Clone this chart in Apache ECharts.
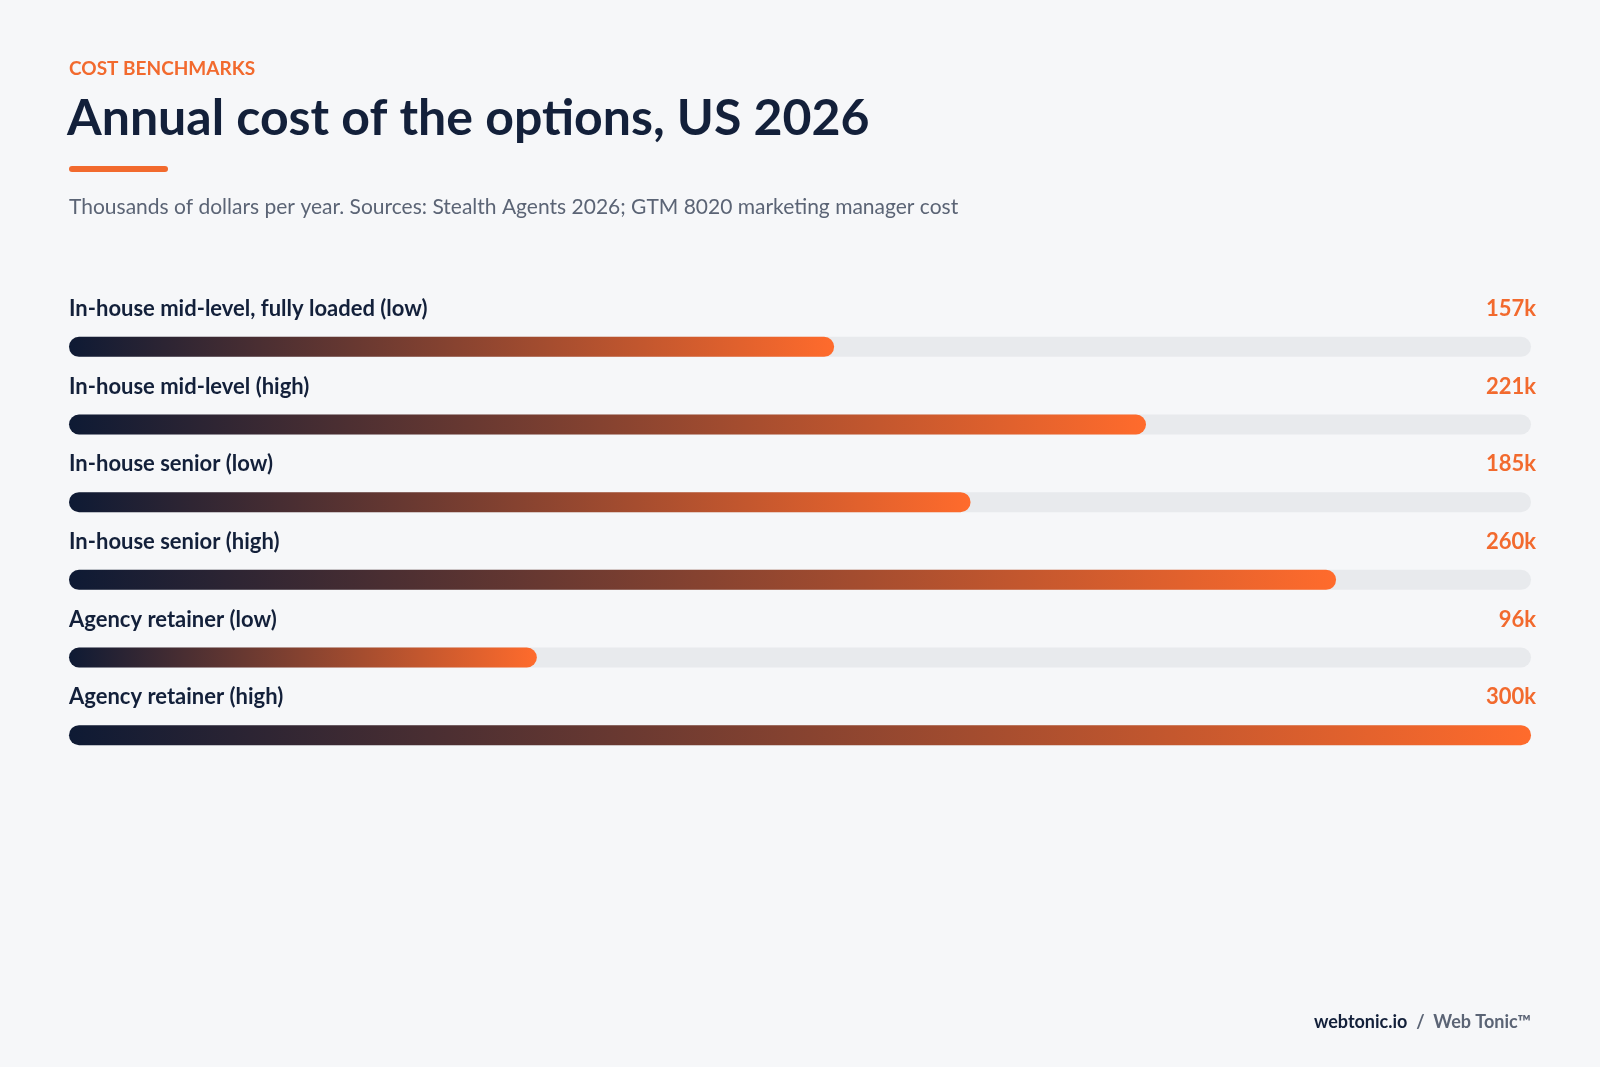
<!DOCTYPE html>
<html><head><meta charset="utf-8">
<script src="https://cdn.jsdelivr.net/npm/echarts@6/dist/echarts.min.js"></script>
<style>html,body{margin:0;padding:0;background:#f6f7f9}#c{width:1600px;height:1067px}</style>
</head><body><div id="c"></div>
<script>
const categories = ["In-house mid-level, fully loaded (low)","In-house mid-level (high)","In-house senior (low)","In-house senior (high)","Agency retainer (low)","Agency retainer (high)"];
const values = [157,221,185,260,96,300];
const axisMax = 300;
const chart = echarts.init(document.getElementById('c'));
const F = 'Lato, "Noto Sans", sans-serif';
chart.setOption({
  backgroundColor:'#f6f7f9',
  animation:false,
  grid:{left:69,right:69,top:308,bottom:293},
  xAxis:{type:'value',min:0,max:axisMax,show:false},
  yAxis:{type:'category',data:categories,inverse:true,show:false},
  series:[
    {type:'bar',data:values.map(()=>axisMax),barWidth:20,silent:true,
     itemStyle:{color:'#e8eaed',borderRadius:10},
     label:{show:true,position:'insideRight',offset:[10,-38],
       formatter:p=>values[p.dataIndex]+'k',color:'#f26a2e',fontFamily:F,fontWeight:'bold',fontSize:22}},
    {type:'bar',data:values,barWidth:20,barGap:'-100%',
     itemStyle:{borderRadius:10,color:new echarts.graphic.LinearGradient(0,0,1,0,[{offset:0,color:'#0e1a34'},{offset:1,color:'#ff6b2c'}])},
     label:{show:true,position:'insideLeft',offset:[-5,-38],formatter:p=>categories[p.dataIndex],
       color:'#13203a',fontFamily:F,fontWeight:'bold',fontSize:22,letterSpacing:-0.5}}
  ],
  graphic:[
    {type:'text',left:69,top:59,style:{text:'COST BENCHMARKS',fill:'#f26a2e',font:'bold 19px '+F,letterSpacing:2.5}},
    {type:'text',left:67,top:94,style:{text:'Annual cost of the options, US 2026',fill:'#13203a',font:'bold 50px '+F,letterSpacing:-1.5}},
    {type:'rect',left:69,top:166,shape:{width:99,height:6,r:3},style:{fill:'#f26a2e'}},
    {type:'text',left:69,top:197,style:{text:'Thousands of dollars per year. Sources: Stealth Agents 2026; GTM 8020 marketing manager cost',fill:'#5b6475',font:'21px '+F}},
    {type:'text',right:69,top:1013,style:{rich:{a:{fill:'#13203a',font:'bold 18px '+F,letterSpacing:0.5},b:{fill:'#5b6475',font:'bold 18px '+F,letterSpacing:0.5}},text:'{a|webtonic.io}{b|  /  Web Tonic™}'}}
  ]
});
</script></body></html>
